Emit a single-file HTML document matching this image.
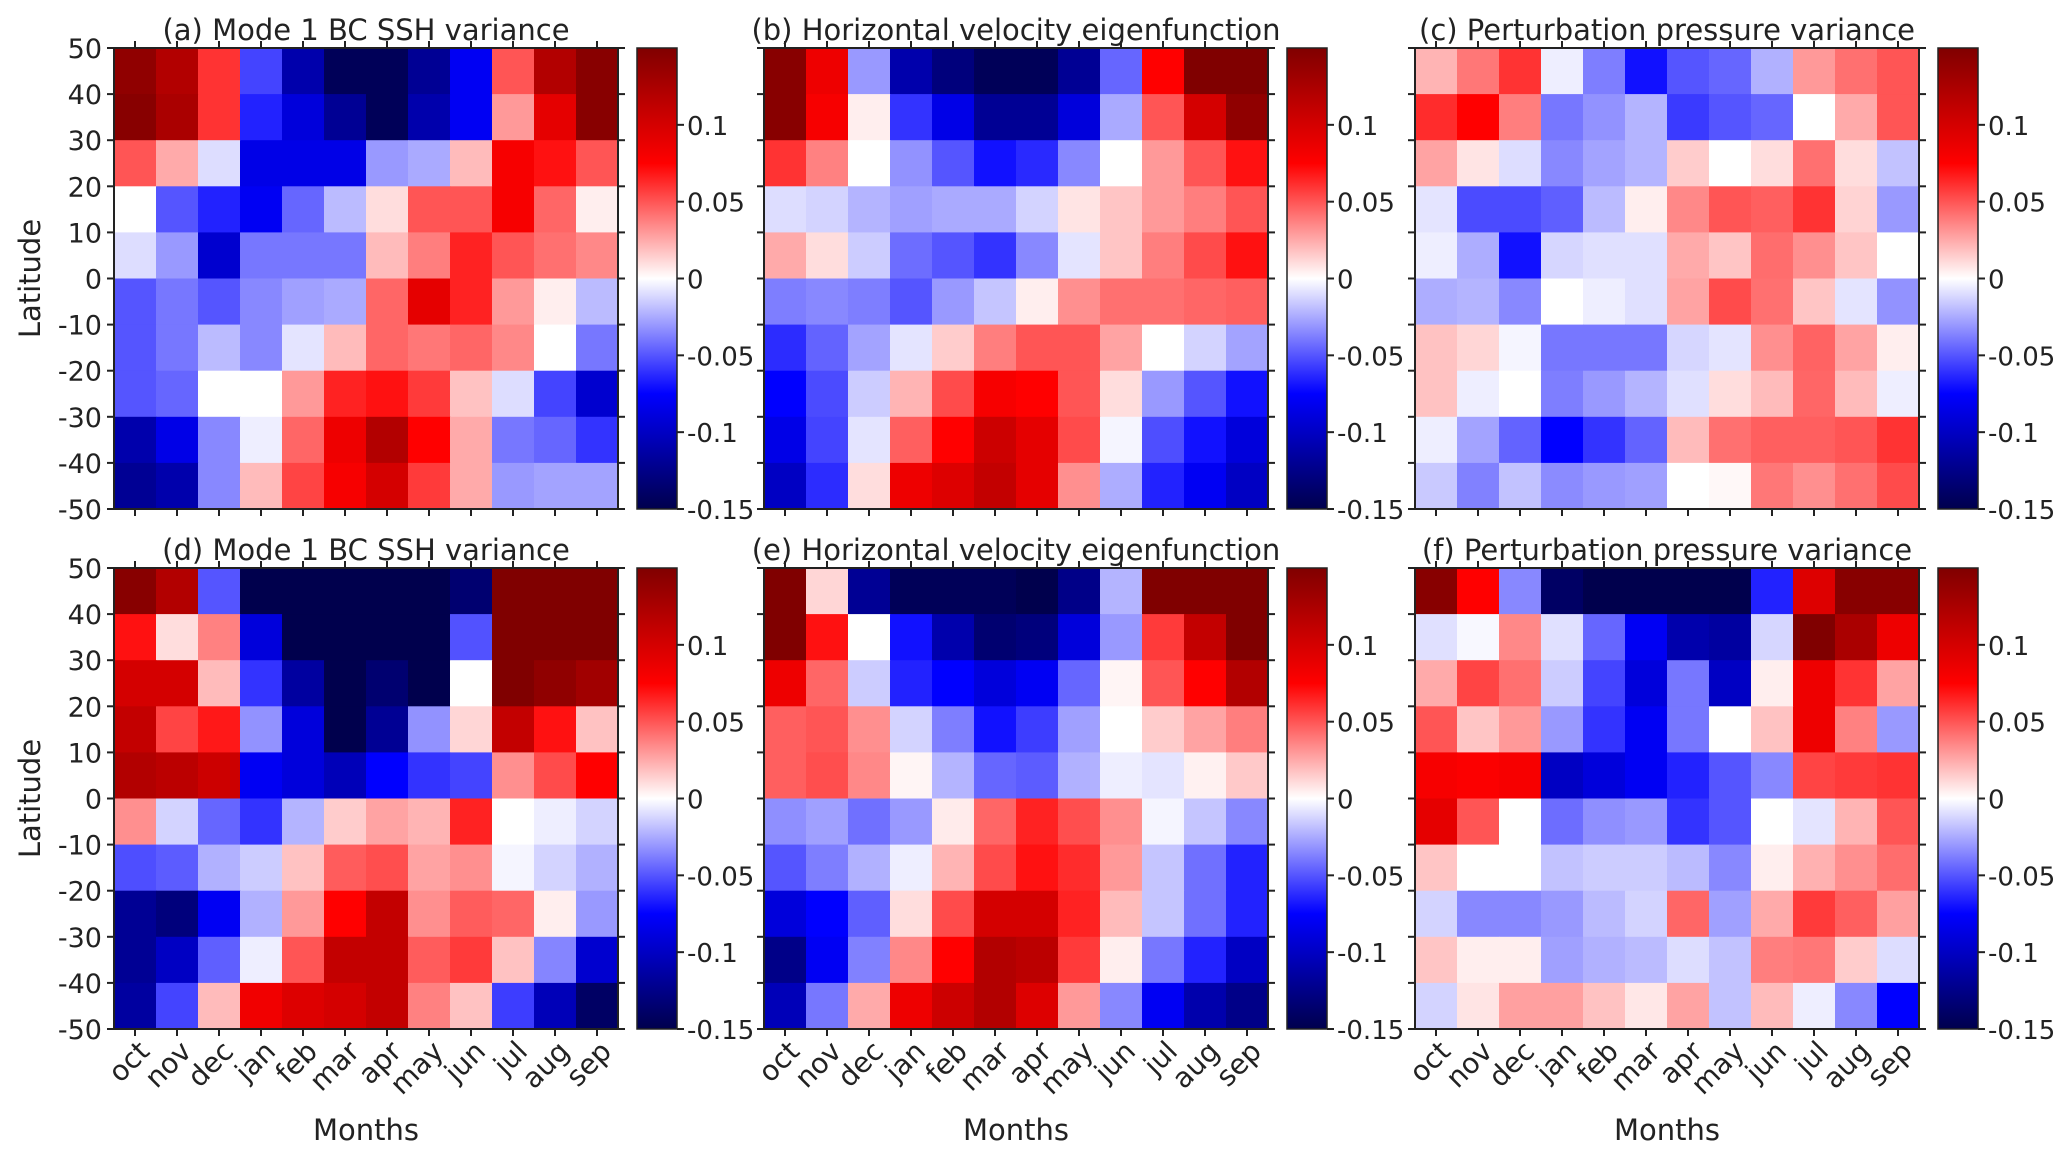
<!DOCTYPE html>
<html><head><meta charset="utf-8">
<style>html,body{margin:0;padding:0;background:#fff}svg{display:block}text{font-family:"DejaVu Sans","Liberation Sans",sans-serif;fill:#222}</style>
</head><body>
<svg id="fig" width="2067" height="1158" viewBox="0 0 2067 1158" xmlns="http://www.w3.org/2000/svg"></svg>
<script>
const months=["oct","nov","dec","jan","feb","mar","apr","may","jun","jul","aug","sep"];
const latTicks=[50,40,30,20,10,0,-10,-20,-30,-40,-50];
const cbTicks=[0.1,0.05,0,-0.05,-0.1,-0.15];
const cbTickLabels=["0.1","0.05","0","-0.05","-0.1","-0.15"];
const titles=["(a) Mode 1 BC SSH variance","(b) Horizontal velocity eigenfunction","(c) Perturbation pressure variance","(d) Mode 1 BC SSH variance","(e) Horizontal velocity eigenfunction","(f) Perturbation pressure variance"];
const dataA=[
[0.14,0.12,0.06,-0.055,-0.11,-0.145,-0.145,-0.12,-0.08,0.05,0.12,0.145],
[0.145,0.125,0.06,-0.065,-0.09,-0.12,-0.145,-0.11,-0.08,0.03,0.09,0.145],
[0.05,0.025,-0.01,-0.085,-0.085,-0.085,-0.03,-0.025,0.02,0.08,0.07,0.05],
[0,-0.05,-0.065,-0.08,-0.045,-0.02,0.01,0.05,0.05,0.08,0.045,0.005],
[-0.01,-0.03,-0.095,-0.04,-0.04,-0.04,0.02,0.038,0.065,0.05,0.042,0.035],
[-0.05,-0.04,-0.05,-0.035,-0.028,-0.025,0.045,0.09,0.065,0.03,0.005,-0.02],
[-0.05,-0.04,-0.02,-0.035,-0.008,0.02,0.045,0.04,0.045,0.035,0,-0.04],
[-0.05,-0.045,0,0,0.03,0.065,0.07,0.058,0.018,-0.01,-0.055,-0.095],
[-0.11,-0.085,-0.035,-0.005,0.045,0.085,0.12,0.075,0.025,-0.04,-0.045,-0.06],
[-0.12,-0.11,-0.035,0.02,0.055,0.08,0.1,0.058,0.025,-0.03,-0.027,-0.027]];
const dataB=[
[0.145,0.085,-0.03,-0.11,-0.13,-0.145,-0.145,-0.12,-0.045,0.075,0.15,0.15],
[0.145,0.08,0.005,-0.06,-0.085,-0.12,-0.12,-0.09,-0.025,0.05,0.1,0.14],
[0.06,0.037,0,-0.032,-0.05,-0.07,-0.063,-0.035,0,0.03,0.05,0.07],
[-0.01,-0.013,-0.022,-0.028,-0.025,-0.025,-0.013,0.008,0.017,0.03,0.038,0.05],
[0.025,0.01,-0.015,-0.043,-0.05,-0.06,-0.035,-0.008,0.017,0.038,0.053,0.07],
[-0.038,-0.035,-0.038,-0.05,-0.03,-0.017,0.005,0.033,0.042,0.042,0.045,0.047],
[-0.062,-0.046,-0.027,-0.008,0.015,0.038,0.05,0.05,0.027,0,-0.013,-0.027],
[-0.075,-0.053,-0.015,0.022,0.053,0.08,0.075,0.05,0.01,-0.03,-0.05,-0.07],
[-0.085,-0.055,-0.008,0.047,0.075,0.105,0.09,0.053,-0.003,-0.052,-0.07,-0.09],
[-0.1,-0.062,0.01,0.085,0.095,0.11,0.09,0.033,-0.024,-0.065,-0.08,-0.1]];
const dataC=[
[0.022,0.04,0.06,-0.005,-0.038,-0.07,-0.05,-0.045,-0.023,0.03,0.042,0.05],
[0.062,0.075,0.038,-0.04,-0.032,-0.022,-0.058,-0.05,-0.045,0,0.025,0.05],
[0.027,0.008,-0.01,-0.035,-0.027,-0.022,0.015,0,0.01,0.042,0.01,-0.018],
[-0.008,-0.053,-0.053,-0.047,-0.02,0.005,0.035,0.05,0.047,0.06,0.013,-0.03],
[-0.005,-0.024,-0.07,-0.012,-0.009,-0.009,0.025,0.017,0.043,0.033,0.017,0],
[-0.024,-0.022,-0.035,0,-0.005,-0.009,0.027,0.053,0.042,0.017,-0.008,-0.032],
[0.018,0.012,-0.003,-0.04,-0.04,-0.04,-0.012,-0.008,0.033,0.046,0.027,0.005],
[0.018,-0.005,0,-0.038,-0.03,-0.022,-0.009,0.01,0.02,0.045,0.02,-0.005],
[-0.005,-0.027,-0.046,-0.075,-0.06,-0.046,0.02,0.042,0.047,0.047,0.05,0.06],
[-0.016,-0.037,-0.018,-0.034,-0.03,-0.028,0,0.002,0.04,0.033,0.042,0.053]];
const dataD=[
[0.145,0.12,-0.05,-0.15,-0.15,-0.15,-0.15,-0.15,-0.135,0.15,0.15,0.15],
[0.07,0.01,0.037,-0.09,-0.15,-0.15,-0.15,-0.15,-0.051,0.15,0.15,0.15],
[0.1,0.1,0.02,-0.06,-0.115,-0.15,-0.135,-0.15,0,0.15,0.14,0.13],
[0.11,0.055,0.068,-0.032,-0.09,-0.15,-0.12,-0.032,0.012,0.11,0.07,0.018],
[0.12,0.115,0.105,-0.08,-0.09,-0.105,-0.075,-0.06,-0.055,0.033,0.053,0.075],
[0.033,-0.013,-0.045,-0.06,-0.022,0.015,0.027,0.022,0.065,0,-0.005,-0.013],
[-0.052,-0.048,-0.023,-0.015,0.018,0.048,0.052,0.027,0.033,-0.003,-0.013,-0.023],
[-0.12,-0.13,-0.08,-0.023,0.03,0.075,0.11,0.033,0.048,0.045,0.005,-0.03],
[-0.12,-0.1,-0.047,-0.005,0.05,0.11,0.11,0.048,0.058,0.018,-0.036,-0.095],
[-0.115,-0.055,0.02,0.083,0.095,0.1,0.11,0.037,0.018,-0.057,-0.105,-0.14]];
const dataE=[
[0.15,0.012,-0.12,-0.145,-0.145,-0.145,-0.15,-0.125,-0.022,0.15,0.15,0.15],
[0.15,0.07,0,-0.07,-0.11,-0.135,-0.13,-0.09,-0.03,0.058,0.11,0.15],
[0.085,0.045,-0.015,-0.065,-0.075,-0.09,-0.08,-0.045,0.003,0.05,0.075,0.12],
[0.047,0.05,0.033,-0.013,-0.038,-0.07,-0.057,-0.028,0,0.015,0.027,0.038],
[0.047,0.052,0.035,0.003,-0.022,-0.045,-0.048,-0.023,-0.005,-0.008,0.004,0.016],
[-0.033,-0.028,-0.042,-0.03,0.006,0.045,0.065,0.052,0.033,-0.003,-0.017,-0.035],
[-0.05,-0.038,-0.023,-0.005,0.022,0.053,0.07,0.062,0.03,-0.017,-0.042,-0.065],
[-0.09,-0.075,-0.047,0.01,0.053,0.1,0.1,0.065,0.02,-0.017,-0.042,-0.065],
[-0.125,-0.08,-0.037,0.035,0.075,0.12,0.115,0.058,0.005,-0.04,-0.065,-0.1],
[-0.105,-0.04,0.025,0.085,0.105,0.12,0.095,0.03,-0.035,-0.08,-0.11,-0.125]];
const dataF=[
[0.145,0.075,-0.035,-0.14,-0.15,-0.15,-0.15,-0.15,-0.065,0.095,0.145,0.145],
[-0.009,-0.002,0.035,-0.009,-0.045,-0.08,-0.11,-0.115,-0.012,0.15,0.125,0.085],
[0.025,0.055,0.042,-0.015,-0.055,-0.09,-0.04,-0.1,0.005,0.085,0.06,0.027],
[0.05,0.017,0.03,-0.03,-0.06,-0.08,-0.04,0,0.018,0.085,0.037,-0.03],
[0.08,0.077,0.08,-0.1,-0.09,-0.08,-0.065,-0.05,-0.035,0.055,0.058,0.06],
[0.09,0.05,0,-0.043,-0.033,-0.03,-0.06,-0.05,0,-0.008,0.022,0.05],
[0.017,0,0,-0.018,-0.015,-0.015,-0.02,-0.035,0.005,0.023,0.033,0.043],
[-0.013,-0.035,-0.035,-0.03,-0.02,-0.013,0.045,-0.028,0.025,0.058,0.047,0.028],
[0.017,0.005,0.005,-0.028,-0.023,-0.02,-0.01,-0.018,0.038,0.04,0.015,-0.01],
[-0.013,0.008,0.028,0.028,0.018,0.007,0.027,-0.018,0.02,-0.005,-0.035,-0.075]];
const panelData=[dataA,dataB,dataC,dataD,dataE,dataF];

const VMIN=-0.15,VMAX=0.15;
function seismic(v){
  let t=(v-VMIN)/(VMAX-VMIN);t=Math.max(0,Math.min(1,t));
  const st=[[0,0,0,0.3],[0.25,0,0,1],[0.5,1,1,1],[0.75,1,0,0],[1,0.5,0,0]];
  for(let i=0;i<4;i++){const a=st[i],b=st[i+1];if(t<=b[0]){const f=(t-a[0])/(b[0]-a[0]);
    return `rgb(${Math.round(255*(a[1]+f*(b[1]-a[1])))},${Math.round(255*(a[2]+f*(b[2]-a[2])))},${Math.round(255*(a[3]+f*(b[3]-a[3])))})`;}}
  return "rgb(128,0,0)";
}
const NS="http://www.w3.org/2000/svg";
const svg=document.getElementById("fig");
function mk(tag,attrs,parent){const e=document.createElementNS(NS,tag);for(const k in attrs)e.setAttribute(k,attrs[k]);(parent||svg).appendChild(e);return e;}
const colX=[114,764,1415],rowY=[48,568],W=504,H=461,CBW=40,CBOFF=523,TL=7;
const defs=mk("defs",{});
const grad=mk("linearGradient",{id:"cmap",x1:"0",y1:"1",x2:"0",y2:"0"},defs);
for(let i=0;i<=20;i++){mk("stop",{offset:(i/20),"stop-color":seismic(VMIN+(VMAX-VMIN)*i/20)},grad);}

panelData.forEach((data,p)=>{
  const x0=colX[p%3],y0=rowY[Math.floor(p/3)];
  const g=mk("g",{});
  
  
  const nR=data.length,nC=months.length;
  const xs=c=>x0+c*W/nC, ys=lat=>y0+(50-lat)/100*H;
  data.forEach((row,r)=>row.forEach((v,c)=>{
    const cell=mk("rect",{x:xs(c),y:ys(50-r*10),width:W/nC+0.6,height:H/nR+0.6,fill:seismic(v)},g);
    
    
  }));
  const fr=mk("rect",{x:x0,y:y0,width:W,height:H,fill:"none",stroke:"#222","stroke-width":2},g);
  
  
  latTicks.forEach(l=>{const y=ys(l);
    mk("line",{x1:x0-TL,x2:x0,y1:y,y2:y,stroke:"#222","stroke-width":2},g);
    mk("line",{x1:x0+W,x2:x0+W+TL,y1:y,y2:y,stroke:"#222","stroke-width":2},g);
    if(p%3===0){const t=mk("text",{x:x0-12,y:y+10,"text-anchor":"end","font-size":27},g);t.textContent=String(l);
      
      }
  });
  months.forEach((m,c)=>{const x=xs(c+0.5);
    mk("line",{x1:x,x2:x,y1:y0-TL,y2:y0,stroke:"#222","stroke-width":2},g);
    mk("line",{x1:x,x2:x,y1:y0+H,y2:y0+H+TL,stroke:"#222","stroke-width":2},g);
    if(p>=3){const t=mk("text",{x:0,y:0,"text-anchor":"end","font-size":28,transform:`translate(${x+16},${y0+H+24}) rotate(-45)`},g);t.textContent=m;
      
      }
  });
  const tt=mk("text",{x:x0+W/2,y:y0-8,"text-anchor":"middle","font-size":29},g);tt.textContent=titles[p];
  
  
  if(p%3===0){const yl=mk("text",{x:0,y:0,"text-anchor":"middle","font-size":29,transform:`translate(40,${y0+H/2}) rotate(-90)`},g);yl.textContent="Latitude";
    
    }
  if(p>=3){const xl=mk("text",{x:x0+W/2,y:1140,"text-anchor":"middle","font-size":29},g);xl.textContent="Months";
    
    }
  const cx=x0+CBOFF;
  const cb=mk("rect",{x:cx,y:y0,width:CBW,height:H,fill:"url(#cmap)",stroke:"#222","stroke-width":1.5},g);
  
  
  const cy=v=>y0+(VMAX-v)/(VMAX-VMIN)*H;
  cbTicks.forEach((v,i)=>{const y=cy(v);
    mk("line",{x1:cx+CBW,x2:cx+CBW+TL,y1:y,y2:y,stroke:"#222","stroke-width":2},g);
    const t=mk("text",{x:cx+CBW+10,y:y+10,"font-size":26},g);t.textContent=cbTickLabels[i];
    
    
  });
});
</script>
</body></html>
